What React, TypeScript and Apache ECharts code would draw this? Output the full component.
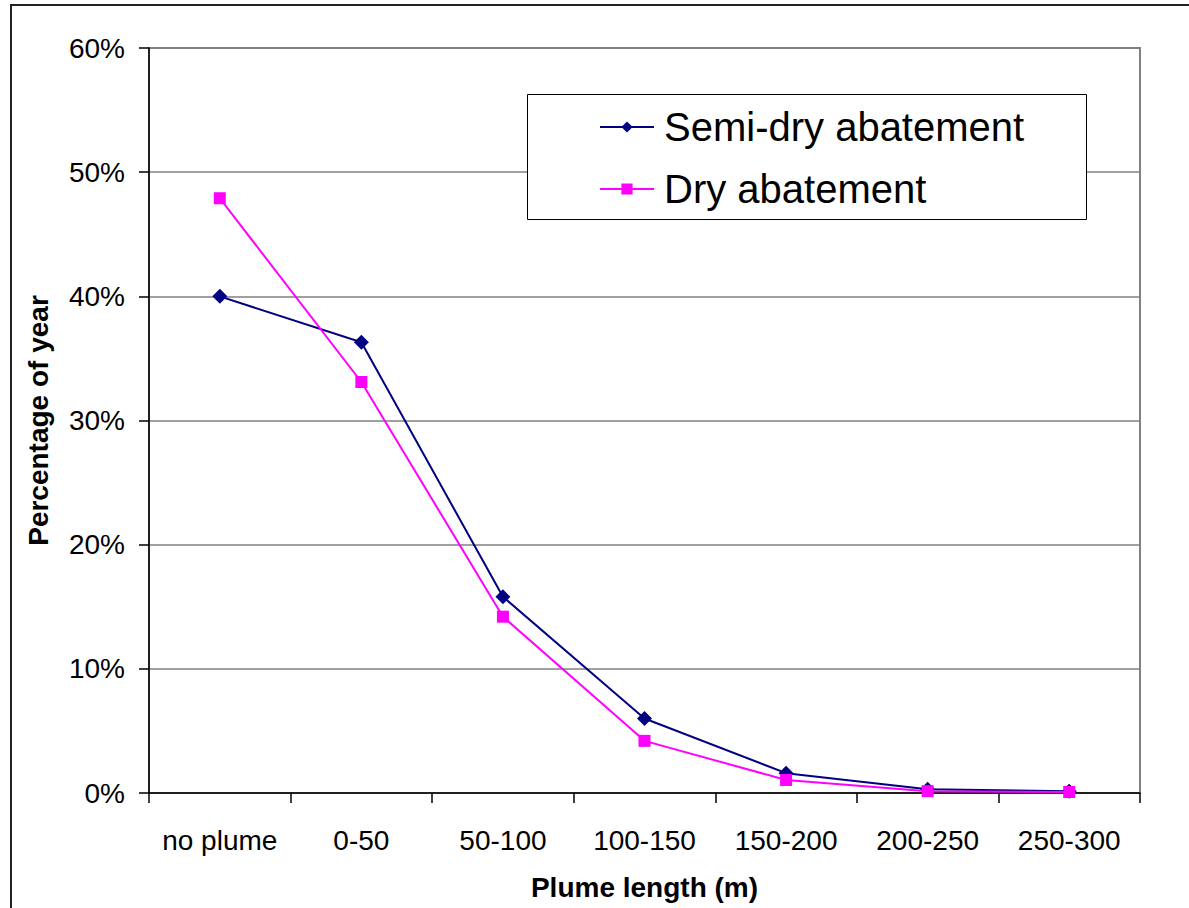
import React, { useEffect, useRef } from "react";
import * as echarts from "echarts";

const categories = ["no plume", "0-50", "50-100", "100-150", "150-200", "200-250", "250-300"];
const semiDry = [40.0, 36.3, 15.8, 6.0, 1.6, 0.3, 0.15];
const dry = [47.9, 33.1, 14.2, 4.2, 1.05, 0.15, 0.08];
const yTicks = { min: 0, max: 60, interval: 10 };

const FONT = '"Liberation Sans", Arial, sans-serif';

export default function App() {
  const ref = useRef<HTMLDivElement>(null);
  useEffect(() => {
    if (!ref.current) return;
    const chart = echarts.init(ref.current, null, { renderer: "svg" });
    chart.setOption({
      animation: false,
      backgroundColor: "#ffffff",
      textStyle: { fontFamily: FONT },
      grid: {
        left: 149,
        right: 49,
        top: 48,
        bottom: 115,
        show: true,
        borderColor: "#808080",
        borderWidth: 2,
        backgroundColor: "transparent",
      },
      graphic: [
        {
          type: "rect",
          shape: { x: 11, y: 5, width: 1400, height: 1200 },
          style: { fill: "none", stroke: "#222222", lineWidth: 2 },
          silent: true,
          z: -1,
        },
        {
          type: "rect",
          shape: { x: 527.5, y: 94.5, width: 559, height: 125 },
          style: { fill: "#ffffff", stroke: "#000000", lineWidth: 1 },
          silent: true,
          z: 5,
        },
      ],
      legend: {
        show: true,
        orient: "vertical",
        left: 599,
        top: 105,
        itemWidth: 54,
        itemHeight: 14,
        itemGap: 18,
        padding: 0,
        z: 10,
        textStyle: { fontSize: 40, color: "#000000", fontFamily: FONT, lineHeight: 44, padding: [0, 0, 0, 5] },
        data: ["Semi-dry abatement", "Dry abatement"],
      },
      xAxis: {
        type: "category",
        data: categories,
        boundaryGap: true,
        name: "Plume length (m)",
        nameLocation: "middle",
        nameGap: 80,
        nameTextStyle: { fontSize: 28, fontWeight: "bold", color: "#000000", fontFamily: FONT },
        axisLine: { lineStyle: { color: "#000000", width: 1.5 } },
        axisTick: { show: true, length: 10, alignWithLabel: false, interval: 0, lineStyle: { color: "#000000", width: 1.5 } },
        axisLabel: { fontSize: 28, color: "#000000", margin: 33, interval: 0, fontFamily: FONT },
        splitLine: { show: false },
      },
      yAxis: {
        type: "value",
        min: yTicks.min,
        max: yTicks.max,
        interval: yTicks.interval,
        name: "Percentage of year",
        nameLocation: "middle",
        nameGap: 97,
        nameTextStyle: { fontSize: 28, fontWeight: "bold", color: "#000000", fontFamily: FONT },
        axisLine: { show: true, lineStyle: { color: "#000000", width: 1.5 } },
        axisTick: { show: true, length: 10, lineStyle: { color: "#000000", width: 1.5 } },
        axisLabel: { fontSize: 28, color: "#000000", margin: 24, formatter: "{value}%", fontFamily: FONT },
        splitLine: { show: true, lineStyle: { color: "#808080", width: 1.5 } },
      },
      series: [
        {
          name: "Semi-dry abatement",
          type: "line",
          data: semiDry,
          symbol: "diamond",
          symbolSize: 15,
          lineStyle: { color: "#000080", width: 2 },
          itemStyle: { color: "#000080" },
          z: 3,
        },
        {
          name: "Dry abatement",
          type: "line",
          data: dry,
          symbol: "rect",
          symbolSize: 12,
          lineStyle: { color: "#FF00FF", width: 2 },
          itemStyle: { color: "#FF00FF" },
          z: 4,
        },
      ],
    });
    return () => chart.dispose();
  }, []);
  return (
    <div
      ref={ref}
      style={{ position: "absolute", left: 0, top: 0, width: 1189, height: 908 }}
    />
  );
}
